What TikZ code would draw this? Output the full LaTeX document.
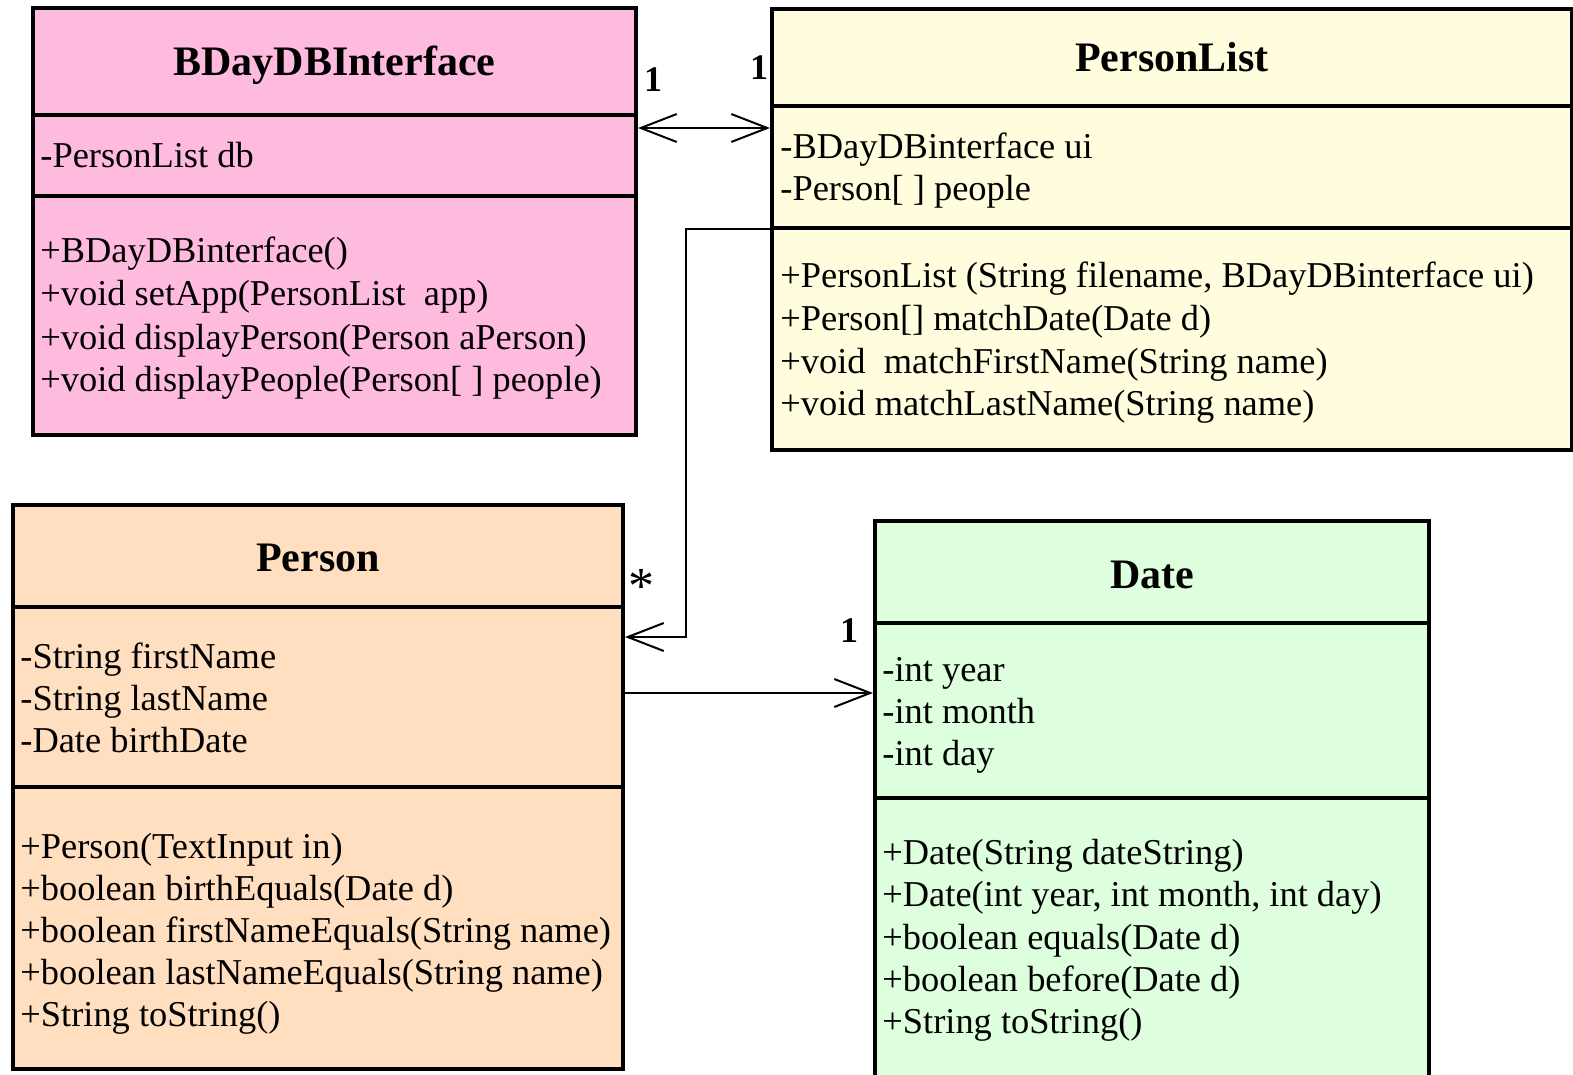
\documentclass[tikz,border=0pt]{standalone}
\usepackage{fontspec}
\setmainfont{Liberation Serif}
\usetikzlibrary{arrows.meta,fit}
\definecolor{pinkc}{RGB}{255,187,221}
\definecolor{creamc}{RGB}{255,253,222}
\definecolor{peachc}{RGB}{255,223,192}
\definecolor{greenc}{RGB}{222,255,222}
\begin{document}
\begin{tikzpicture}[x=0.5pt,y=-0.5pt,
  classbox/.style={draw=black, line width=2pt, inner sep=0pt},
  divider/.style={line width=2pt},
  ctitle/.style={font=\fontsize{21}{25}\selectfont\bfseries, anchor=base, inner sep=0pt},
  member/.style={font=\fontsize{18.2}{21}\selectfont, anchor=base west, inner sep=0pt},
  mult/.style={font=\fontsize{18}{21}\selectfont\bfseries, inner sep=0pt},
  conn/.style={line width=1pt},
  openhead/.style={-{Straight Barb[length=18pt,width=14pt,line width=1pt]}},
  bothheads/.style={{Straight Barb[length=18pt,width=14pt,line width=1pt]}-{Straight Barb[length=18pt,width=14pt,line width=1pt]}}
]
\useasboundingbox (0,0) rectangle (1573,1075);

% ---------- BDayDBInterface ----------
\node[classbox, fill=pinkc, fit={(33,8)(636,435)}] (bday) {};
\draw[divider] (33,115) -- (636,115);
\draw[divider] (33,196) -- (636,196);
\node[ctitle] (bdT) at (334.5,76) {BDayDBInterface};
\node[member] (bda1) at (40,168) {-PersonList db};
\node[member] (bdm1) at (40,263) {+BDayDBinterface()};
\node[member] (bdm2) at (40,306) {+void setApp(PersonList\ \ app)};
\node[member] (bdm3) at (40,349) {+void displayPerson(Person aPerson)};
\node[member] (bdm4) at (40,391) {+void displayPeople(Person[ ] people)};

% ---------- PersonList ----------
\node[classbox, fill=creamc, fit={(772,9)(1572,450)}] (plist) {};
\draw[divider] (772,106) -- (1572,106);
\draw[divider] (772,228) -- (1572,228);
\node[ctitle] (plT) at (1172,72) {PersonList};
\node[member] (pla1) at (780,159) {-BDayDBinterface ui};
\node[member] (pla2) at (780,201) {-Person[ ] people};
\node[member] (plm1) at (780,287) {+PersonList (String filename, BDayDBinterface ui)};
\node[member] (plm2) at (780,330) {+Person[] matchDate(Date d)};
\node[member] (plm3) at (780,373) {+void\ \ matchFirstName(String name)};
\node[member] (plm4) at (780,415) {+void matchLastName(String name)};

% ---------- Person ----------
\node[classbox, fill=peachc, fit={(13,505)(623,1069)}] (person) {};
\draw[divider] (13,607) -- (623,607);
\draw[divider] (13,787) -- (623,787);
\node[ctitle] (peT) at (318,571) {Person};
\node[member] (pea1) at (20,668) {-String firstName};
\node[member] (pea2) at (20,710) {-String lastName};
\node[member] (pea3) at (20,752) {-Date birthDate};
\node[member] (pem1) at (20,858) {+Person(TextInput in)};
\node[member] (pem2) at (20,900) {+boolean birthEquals(Date d)};
\node[member] (pem3) at (20,942) {+boolean firstNameEquals(String name)};
\node[member] (pem4) at (20,984) {+boolean lastNameEquals(String name)};
\node[member] (pem5) at (20,1026) {+String toString()};

% ---------- Date ----------
\node[classbox, fill=greenc, fit={(875,521)(1429,1080)}] (date) {};
\draw[divider] (875,623) -- (1429,623);
\draw[divider] (875,798) -- (1429,798);
\node[ctitle] (daT) at (1152,588) {Date};
\node[member] (daa1) at (882,681) {-int year};
\node[member] (daa2) at (882,723) {-int month};
\node[member] (daa3) at (882,765) {-int day};
\node[member] (dam1) at (882,864) {+Date(String dateString)};
\node[member] (dam2) at (882,906) {+Date(int year, int month, int day)};
\node[member] (dam3) at (882,949) {+boolean equals(Date d)};
\node[member] (dam4) at (882,991) {+boolean before(Date d)};
\node[member] (dam5) at (882,1033) {+String toString()};

% ---------- connectors ----------
\coordinate (bdR) at (bday.east |- 0,128);
\coordinate (plL) at (plist.west |- 0,128);
\draw[conn, bothheads] (bdR) -- (plL);
\node[mult] (m1) at (653,80) {1};
\node[mult] (m2) at (759,68) {1};

\coordinate (plOut) at (plist.west |- 0,229);
\coordinate (peIn) at (person.east |- 0,637);
\draw[conn, openhead] (plOut) -- (686,229) -- (686,637) -- (peIn);
\node[mult, font=\fontsize{26}{30}\selectfont] (m3) at (641,586) {*};

\coordinate (peOut) at (person.east |- 0,693);
\coordinate (daIn) at (date.west |- 0,693);
\draw[conn, openhead] (peOut) -- (daIn);
\node[mult] (m4) at (849,631) {1};
\end{tikzpicture}
\end{document}
